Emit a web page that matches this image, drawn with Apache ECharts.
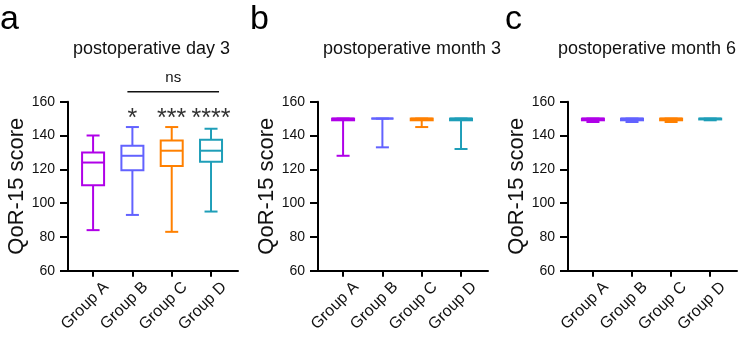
<!DOCTYPE html>
<html>
<head>
<meta charset="utf-8">
<script src="https://cdn.jsdelivr.net/npm/echarts@6/dist/echarts.min.js"></script>
<style>html,body{margin:0;padding:0;background:#fff;}#c{width:744px;height:343px;}</style>
</head>
<body>
<div id="c"></div>
<script>
// ---- data ----
const categories = ['Group A', 'Group B', 'Group C', 'Group D'];
// each box: [min, Q1, median, Q3, max]
const day3 = [[84, 110.5, 124, 130, 140], [93, 119.5, 128, 134, 145], [83, 122, 131, 137, 145], [95, 124.5, 131, 137.5, 144]];
const month3 = [[128, 149, 150, 150, 150], [133, 150, 150, 150, 150], [145, 149, 150, 150, 150], [132, 149, 150, 150, 150]];
const month6 = [[148, 149, 150, 150, 150], [148, 149, 150, 150, 150], [148, 149, 150, 150, 150], [149, 149.5, 150, 150, 150]];
const panelTitles = ['postoperative day 3', 'postoperative month 3', 'postoperative month 6'];
const panelLetters = ['a', 'b', 'c'];
const yName = 'QoR-15 score';
const yMin = 60, yMax = 160, yStep = 20;
const day3Stars = ['', '*', '***', '****'];
const day3Bracket = ['Group B', 'Group D', 'ns'];

// ---- styles / layout ----
const boxColors = ['#B000E8', '#6262FF', '#FF8000', '#1E9EB8'];
const FONT = '"Liberation Sans", Arial, Helvetica, sans-serif';
const gridLefts = [68, 318, 568];
const gridWidths = [170, 170, 169];
const titleLefts = [73, 323, 558];
const letterLefts = [0, 250, 505];
const xMin = 0.362, xMax = 4.686;
const labelShift = 0.33;

const chart = echarts.init(document.getElementById('c'), null, {renderer: 'canvas'});

function renderBox(panelData) {
  return function (params, api) {
    const x = api.value(0);
    const lo = api.coord([x, api.value(1)]);
    const q1 = api.coord([x, api.value(2)]);
    const med = api.coord([x, api.value(3)]);
    const q3 = api.coord([x, api.value(4)]);
    const hi = api.coord([x, api.value(5)]);
    const cx = lo[0];
    const bw = 22, cw = 13;
    const color = boxColors[params.dataIndex];
    const st = {stroke: color, lineWidth: 2, fill: null};
    return {
      type: 'group',
      children: [
        {type: 'line', shape: {x1: cx, y1: lo[1], x2: cx, y2: q1[1]}, style: st},
        {type: 'line', shape: {x1: cx, y1: q3[1], x2: cx, y2: hi[1]}, style: st},
        {type: 'line', shape: {x1: cx - cw / 2, y1: lo[1], x2: cx + cw / 2, y2: lo[1]}, style: st},
        {type: 'line', shape: {x1: cx - cw / 2, y1: hi[1], x2: cx + cw / 2, y2: hi[1]}, style: st},
        {type: 'rect', shape: {x: cx - bw / 2, y: q3[1], width: bw, height: q1[1] - q3[1]}, style: {stroke: color, lineWidth: 2, fill: '#fff'}},
        {type: 'line', shape: {x1: cx - bw / 2, y1: med[1], x2: cx + bw / 2, y2: med[1]}, style: st}
      ]
    };
  };
}

const panels = [day3, month3, month6];
const grids = [], xAxes = [], yAxes = [], series = [], titles = [];
panels.forEach((pd, p) => {
  grids.push({left: gridLefts[p], top: 101.7, width: gridWidths[p], height: 169});
  xAxes.push({
    type: 'value', gridIndex: p, min: xMin, max: xMax,
    splitLine: {show: false},
    axisLine: {show: true, lineStyle: {color: '#000', width: 2}},
    axisTick: {show: true, customValues: categories.map((c, i) => i + 1), length: 6, lineStyle: {color: '#000', width: 2}},
    axisLabel: {
      customValues: categories.map((c, i) => i + 1 + labelShift), rotate: 45, margin: 14,
      fontSize: 16, color: '#111', fontFamily: FONT,
      formatter: v => categories[Math.round(v) - 1] || ''
    }
  });
  yAxes.push({
    type: 'value', gridIndex: p, min: yMin, max: yMax, interval: yStep,
    name: yName, nameLocation: 'middle', nameGap: 37,
    nameTextStyle: {fontSize: 22, color: '#111', fontFamily: FONT},
    splitLine: {show: false},
    axisLine: {show: true, lineStyle: {color: '#000', width: 2}},
    axisTick: {show: true, length: 8, lineStyle: {color: '#000', width: 2}},
    axisLabel: {fontSize: 14, color: '#111', margin: 13, fontFamily: FONT}
  });
  series.push({
    type: 'custom', xAxisIndex: p, yAxisIndex: p,
    data: pd.map((d, i) => [i + 1].concat(d)),
    encode: {x: 0, y: [1, 2, 3, 4, 5]},
    renderItem: renderBox(pd)
  });
  titles.push({text: panelTitles[p], left: titleLefts[p], top: 40, padding: 0,
    textStyle: {fontSize: 18, fontWeight: 'normal', color: '#111', fontFamily: FONT}});
  titles.push({text: panelLetters[p], left: letterLefts[p], top: 3, padding: 0,
    textStyle: {fontSize: 34, fontWeight: 'normal', color: '#000', fontFamily: FONT}});
});

// significance stars (panel a)
const starItems = day3Stars.map((s, i) => ({x: i + 1, label: s})).filter(d => d.label);
series.push({
  type: 'custom', xAxisIndex: 0, yAxisIndex: 0,
  data: starItems.map(d => [d.x, yMax]),
  renderItem: function (params, api) {
    const pt = api.coord([api.value(0), api.value(1)]);
    return {type: 'text', style: {text: starItems[params.dataIndex].label, x: pt[0], y: pt[1] + 17,
      align: 'center', verticalAlign: 'middle', fontSize: 25, fill: '#333', fontFamily: FONT}};
  }
});
// ns bracket (panel a)
series.push({
  type: 'custom', xAxisIndex: 0, yAxisIndex: 0,
  data: [[categories.indexOf(day3Bracket[0]) + 1, categories.indexOf(day3Bracket[1]) + 1, yMax]],
  renderItem: function (params, api) {
    const a = api.coord([api.value(0), api.value(2)]);
    const b = api.coord([api.value(1), api.value(2)]);
    const x1 = a[0] - 5, x2 = b[0] + 8, y = a[1] - 10;
    return {type: 'group', children: [
      {type: 'line', shape: {x1: x1, y1: y, x2: x2, y2: y}, style: {stroke: '#111', lineWidth: 1.5}},
      {type: 'text', style: {text: day3Bracket[2], x: (x1 + x2) / 2, y: y - 14, align: 'center', verticalAlign: 'middle',
        fontSize: 15, fill: '#111', fontFamily: FONT}}
    ]};
  }
});

chart.setOption({
  animation: false,
  backgroundColor: '#fff',
  title: titles,
  grid: grids,
  xAxis: xAxes,
  yAxis: yAxes,
  series: series
});
</script>
</body>
</html>
